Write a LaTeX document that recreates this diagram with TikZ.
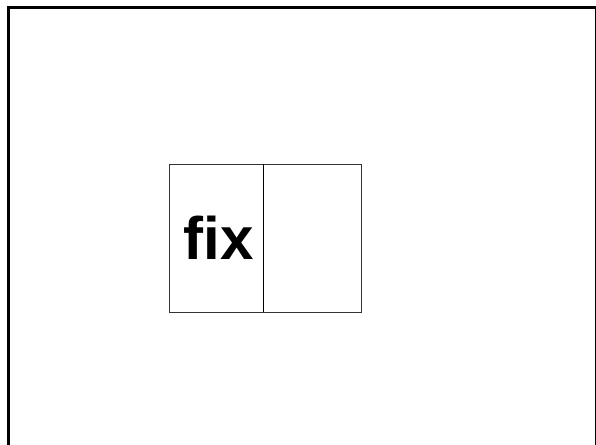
\documentclass[tikz,border=0pt]{standalone}
\usepackage{fontspec}
\newfontfamily\cellfont{Liberation Sans}
\usepackage{tikz}
\usetikzlibrary{positioning}
\tikzset{
    framebox/.style={draw=black, line width=3pt},
    cellbox/.style={draw=black!80, line width=0.8pt, minimum height=148pt, inner sep=0pt, outer sep=0pt, anchor=north west},
}

\begin{document}
\begin{tikzpicture}[x=1pt, y=-1pt,
    every node/.style={font=\cellfont\bfseries\fontsize{60}{60}\selectfont},
]
\useasboundingbox (0,0) rectangle (596,444);
\clip (0,0) rectangle (596,444);
\draw[framebox] (8,8) rectangle (596.5,470);
\node[cellbox, minimum width=94pt] (fixcell) at (169,164) {\hspace*{5pt}fix};
\node[cellbox, minimum width=98pt, right=0pt of fixcell.north east, anchor=north west] (blankcell) {};
\draw[black, line width=0.9pt] (fixcell.north east) -- (fixcell.south east);
\end{tikzpicture}
\end{document}
